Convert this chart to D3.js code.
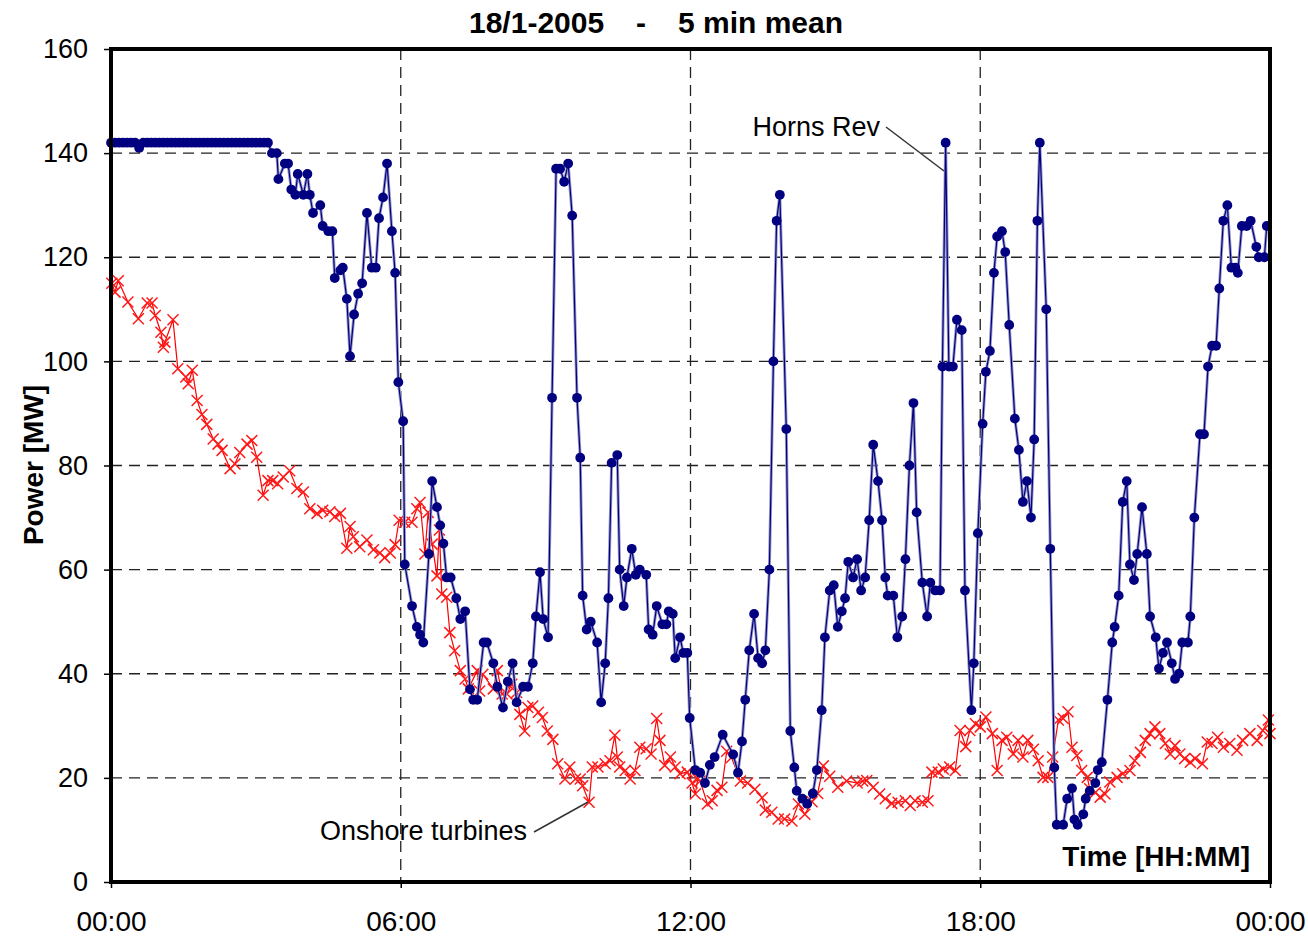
<!DOCTYPE html>
<html>
<head>
<meta charset="utf-8">
<script src="https://cdn.jsdelivr.net/npm/d3@7"></script>
<style>
  body { margin: 0; background: #fff; }
  text { font-family: "Liberation Sans", Arial, sans-serif; }
</style>
</head>
<body>
<div id="plot-container"></div>
<script>
// time in minutes after midnight, power in MW
const hornsRev = [
  [0,142],[5,142],[10,142],[15,142],[20,142],[25,142],[30,142],[35,141],[40,142],[45,142],
  [50,142],[55,142],[60,142],[65,142],[70,142],[75,142],[80,142],[85,142],[90,142],[95,142],
  [100,142],[105,142],[110,142],[115,142],[120,142],[125,142],[130,142],[135,142],[140,142],[145,142],
  [150,142],[155,142],[160,142],[165,142],[170,142],[175,142],[180,142],[185,142],[190,142],[195,142],
  [200,140],[206,140],[208,135],[216,138],[220,138],[224,133],[229,132],[232,136],[239,132],[244,136],
  [247,132],[251,128.5],[260,130],[263,126],[270,125],[275,125],[278,116],[285,117.5],[288,118],[293,112],
  [297,101],[302,109],[307,113],[312,115],[318,128.5],[324,118],[329,118],[333,127.5],[338,131.5],[343,138],
  [349,125],[353,117],[357,96],[363,88.5],[365,61],[374,53],[380,49],[384,47.5],[388,46],[395,63],
  [399,77],[405,72],[409,68.5],[413,65],[417,58.5],[422,58.5],[429,54.5],[434,50.5],[440,52],[446,37],
  [450,35],[455,35],[463,46],[467,46],[475,42],[480,37.5],[487,33.5],[493,38.5],[499,42],[504,34.5],
  [512,37.5],[518,37.5],[524,42],[528,51],[533,59.5],[537,50.5],[543,47],[548,93],[553,137],[558,137],
  [563,134.5],[568,138],[573,128],[579,93],[583,81.5],[586,55],[591,48.5],[596,50],[604,46],[609,34.5],
  [614,42],[618,54.5],[622,80.5],[629,82],[632,60],[637,53],[641,58.5],[647,64],[652,59],[657,60],
  [665,59],[668,48.5],[673,47.5],[678,53],[685,49.5],[690,49.5],[693,52],[698,51.5],[701,43],[707,47],
  [711,44],[716,44],[719,31.5],[726,21.5],[732,21],[738,19],[744,22.5],[750,24],[760,28.3],[773,24.5],
  [779,21],[784,27],[788,35],[793,44.5],[799,51.5],[804,43],[809,42],[813,44.5],[818,60],[823,100],
  [827,127],[831,132],[839,87],[844,29],[849,22],[852,17.5],[859,16],[865,15],[872,17],[877,21.5],
  [883,33],[887,47],[893,56],[898,57],[903,49],[908,52],[912,54.5],[916,61.5],[922,58.5],[927,62],
  [932,56],[937,58.5],[942,69.5],[947,84],[953,77],[958,69.5],[962,58.5],[965,55],[972,55],[977,47],
  [983,51],[987,62],[992,80],[997,92],[1001,71],[1008,57.5],[1014,51],[1018,57.5],[1024,56],[1030,56],
  [1033,99],[1037,142],[1041,99],[1046,99],[1051,108],[1057,106],[1061,56],[1069,33],[1072,42],[1077,67],
  [1083,88],[1087,98],[1092,102],[1097,117],[1101,124],[1107,125],[1111,121],[1116,107],[1123,89],[1128,83],
  [1133,73],[1138,77],[1143,70],[1147,85],[1151,127],[1154,142],[1162,110],[1167,64],[1172,22],[1175,11],
  [1183,11],[1188,16],[1194,18],[1197,12],[1201,11],[1208,13],[1211,16],[1216,17.5],[1223,19],[1226,21.5],
  [1231,23],[1238,35],[1244,46],[1247,49],[1252,55],[1257,73],[1262,77],[1266,61],[1271,58],[1275,63],
  [1281,72],[1287,63],[1291,51],[1298,47],[1302,41],[1307,44],[1312,46],[1318,42],[1322,39],[1327,40],
  [1331,46],[1338,46],[1341,51],[1346,70],[1353,86],[1358,86],[1363,99],[1368,103],[1373,103],[1377,114],
  [1382,127],[1387,130],[1392,118],[1397,118],[1400,117],[1405,126],[1411,126],[1416,127],[1423,122],[1426,120],
  [1433,120],[1436,126]
];

const onshore = [
  [1,115],[5,113.3],[9,115.5],[21,111.4],[34,108.2],[45,111.2],[51,111.2],[55,108.8],[62,105.6],[65,102.7],
  [67,103.7],[77,108],[83,98.6],[93,97],[96,95.7],[101,98.3],[107,92.5],[113,89.8],[119,87.9],[127,85.1],
  [133,84.1],[138,82.9],[148,79.4],[154,80.3],[160,82.5],[169,84.1],[175,84.8],[181,81.6],[189,74.3],[195,77.1],
  [201,77.1],[207,76.5],[214,77.8],[222,79],[231,75.6],[239,74.9],[247,71.7],[256,70.8],[263,71.4],[272,71.1],
  [278,70.2],[285,70.8],[293,64.1],[297,68.3],[301,66.3],[309,64.4],[318,65.7],[326,63.8],[334,63.2],[340,62.3],
  [347,63.2],[353,64.8],[358,69.5],[365,69.1],[374,69.1],[380,71.7],[384,72.9],[390,63],[394,71],[399,64.9],
  [405,58.8],[408,67.6],[411,55.3],[417,54.7],[421,47.9],[427,44.4],[434,40.6],[440,39],[444,37.1],[455,40.6],
  [458,36.7],[462,39.9],[475,37.1],[480,40.6],[486,36.1],[492,36.1],[498,38],[504,36.4],[508,32.2],[514,29],
  [518,33.5],[524,33.8],[531,32.6],[536,31.6],[542,29],[549,27.4],[555,22.7],[564,19.8],[570,22.1],[577,19.8],
  [583,19.8],[586,18.5],[594,15.3],[598,22.1],[605,22.1],[614,22.7],[620,23.3],[626,28.2],[629,24],[632,22.1],
  [639,21.4],[645,19.8],[651,21.4],[657,25.9],[665,25.6],[671,24.6],[678,31.4],[682,27.2],[688,22.4],[695,24],
  [701,22.1],[707,20.8],[716,21.1],[722,19],[726,16.9],[729,19.8],[732,19.4],[741,15],[747,15.6],[753,17.6],
  [759,18.2],[765,25.1],[771,23.9],[782,19.4],[791,19],[800,17.8],[809,16.2],[813,13.8],[821,13.4],[829,12.1],
  [837,12.1],[846,11.7],[854,15],[862,13],[871,15.4],[878,17],[885,22.3],[893,20.3],[903,18.2],[914,19.4],
  [927,19],[934,19.4],[939,19.5],[947,18.2],[955,16.9],[962,16],[970,15.1],[978,15.3],[987,15.6],[993,14.7],
  [999,15.6],[1008,15.3],[1015,15.6],[1020,21.1],[1028,21.1],[1034,21.7],[1042,22.1],[1049,21.4],[1055,29.1],[1062,26],
  [1067,29.1],[1074,30.4],[1080,29.8],[1087,31.7],[1095,28.5],[1101,21.4],[1107,27.2],[1113,27.8],[1121,24.6],[1127,27.2],
  [1133,24],[1139,27.2],[1146,25.5],[1152,23.3],[1158,20.1],[1164,20.1],[1170,24],[1177,31.1],[1183,31.4],[1189,32.7],
  [1194,25.9],[1200,24.3],[1206,21.4],[1213,20.1],[1216,17.9],[1223,17.2],[1229,16.3],[1235,16.9],[1241,19.2],[1250,20.1],
  [1257,20.8],[1266,21.4],[1272,23.3],[1279,24.9],[1285,27.2],[1291,28.5],[1297,29.8],[1303,28.5],[1310,26.6],[1316,24.6],
  [1322,26.2],[1328,24.6],[1334,23.7],[1341,23],[1347,23.7],[1356,22.7],[1362,26.9],[1368,26.6],[1375,27.8],[1382,25.9],
  [1390,26.6],[1399,25.3],[1406,27.2],[1415,28.5],[1424,27.2],[1431,29.1],[1438,31.1],[1440,28.5]
];

const yTicks = [0, 20, 40, 60, 80, 100, 120, 140, 160];
const xTicks = [0, 360, 720, 1080, 1440];
const yGrid = [20, 40, 60, 80, 100, 120, 140];
const xGrid = [360, 720, 1080];

margin = {top: 49, right: 38, bottom: 58, left: 111},
    width = 1308 - margin.left - margin.right,
    height = 940 - margin.top - margin.bottom;

const root = d3.select("#plot-container")
  .append("svg")
    .attr("width", 1308)
    .attr("height", 940);

svg = root.append("g")
    .attr("transform", "translate(" + margin.left + "," + margin.top + ")");

const x = d3.scaleLinear().domain([0, 1440]).range([0, width]);
const y = d3.scaleLinear().domain([0, 160]).range([height, 0]);

const fmt = m => {
  const h = Math.floor(m / 60) % 24, mm = m % 60;
  return String(h).padStart(2, "0") + ":" + String(mm).padStart(2, "0");
};

// dashed grid
svg.selectAll(".hgrid")
  .data(yGrid)
  .enter().append("line")
    .attr("x1", 0).attr("x2", width)
    .attr("y1", d => y(d)).attr("y2", d => y(d))
    .attr("stroke", "#222").attr("stroke-width", 1.3)
    .attr("stroke-dasharray", "11,7");

svg.selectAll(".vgrid")
  .data(xGrid)
  .enter().append("line")
    .attr("y1", 0).attr("y2", height)
    .attr("x1", d => x(d)).attr("x2", d => x(d))
    .attr("stroke", "#222").attr("stroke-width", 1.3)
    .attr("stroke-dasharray", "11,7");

// axes
const yAxis = svg.append("g")
    .call(d3.axisLeft(y).tickValues(yTicks).tickSize(7).tickPadding(16));
const xAxis = svg.append("g")
    .attr("transform", `translate(0, ${height})`)
    .call(d3.axisBottom(x).tickValues(xTicks).tickFormat(fmt).tickSize(6).tickPadding(23));

[yAxis, xAxis].forEach(a => {
  a.select(".domain").remove();
  a.selectAll("line").attr("stroke", "#000").attr("stroke-width", 1.5);
  a.selectAll("text")
    .attr("fill", "#000")
    .style("font-size", "27px")
    .style("font-family", "'Liberation Sans', Arial, sans-serif");
});
xAxis.selectAll("text").style("font-size", "28px");

// onshore turbines (red, x markers)
const line = d3.line().x(d => x(d[0])).y(d => y(d[1]));

svg.append("path")
  .datum(onshore)
  .attr("d", line)
  .attr("fill", "none")
  .attr("stroke", "#ff0000")
  .attr("stroke-width", 1.2);

svg.selectAll(".cross")
  .data(onshore)
  .enter().append("path")
    .attr("transform", d => `translate(${x(d[0])},${y(d[1])})`)
    .attr("d", "M-5.5,-5.5L5.5,5.5M-5.5,5.5L5.5,-5.5")
    .attr("stroke", "#ff1a1a")
    .attr("stroke-width", 1.5)
    .attr("fill", "none");

// Horns Rev (navy, dots)
svg.append("path")
  .datum(hornsRev)
  .attr("d", line)
  .attr("fill", "none")
  .attr("stroke", "#9a9ac8")
  .attr("stroke-width", 3);

svg.append("path")
  .datum(hornsRev)
  .attr("d", line)
  .attr("fill", "none")
  .attr("stroke", "#000080")
  .attr("stroke-width", 1.2);

svg.selectAll(".dot")
  .data(hornsRev)
  .enter().append("circle")
    .attr("cx", d => x(d[0]))
    .attr("cy", d => y(d[1]))
    .attr("r", 4.9)
    .attr("fill", "#000080");

// frame
svg.append("rect")
  .attr("x", 0).attr("y", 0)
  .attr("width", width).attr("height", height)
  .attr("fill", "none")
  .attr("stroke", "#000")
  .attr("stroke-width", 4);

// annotations
svg.append("line")
  .attr("x1", 775).attr("y1", 78).attr("x2", 833).attr("y2", 122)
  .attr("stroke", "#333").attr("stroke-width", 1.5);
svg.append("text")
  .attr("x", 769).attr("y", 87)
  .attr("text-anchor", "end")
  .style("font-size", "27px")
  .text("Horns Rev");

svg.append("line")
  .attr("x1", 423).attr("y1", 783).attr("x2", 477).attr("y2", 753)
  .attr("stroke", "#333").attr("stroke-width", 1.5);
svg.append("text")
  .attr("x", 416).attr("y", 791)
  .attr("text-anchor", "end")
  .style("font-size", "27px")
  .text("Onshore turbines");

svg.append("text")
  .attr("x", width - 20).attr("y", height - 16)
  .attr("text-anchor", "end")
  .style("font-size", "28px")
  .style("font-weight", "bold")
  .text("Time [HH:MM]");

// y label
root.append("text")
  .attr("transform", "translate(43, 465) rotate(-90)")
  .attr("text-anchor", "middle")
  .style("font-size", "28px")
  .style("font-weight", "bold")
  .text("Power [MW]");

// title
const title = root.append("text")
  .attr("y", 33)
  .style("font-size", "30px")
  .style("font-weight", "bold");
title.append("tspan").attr("x", 469).text("18/1-2005");
title.append("tspan").attr("x", 636).text("-");
title.append("tspan").attr("x", 678).text("5 min mean");
</script>
</body>
</html>
